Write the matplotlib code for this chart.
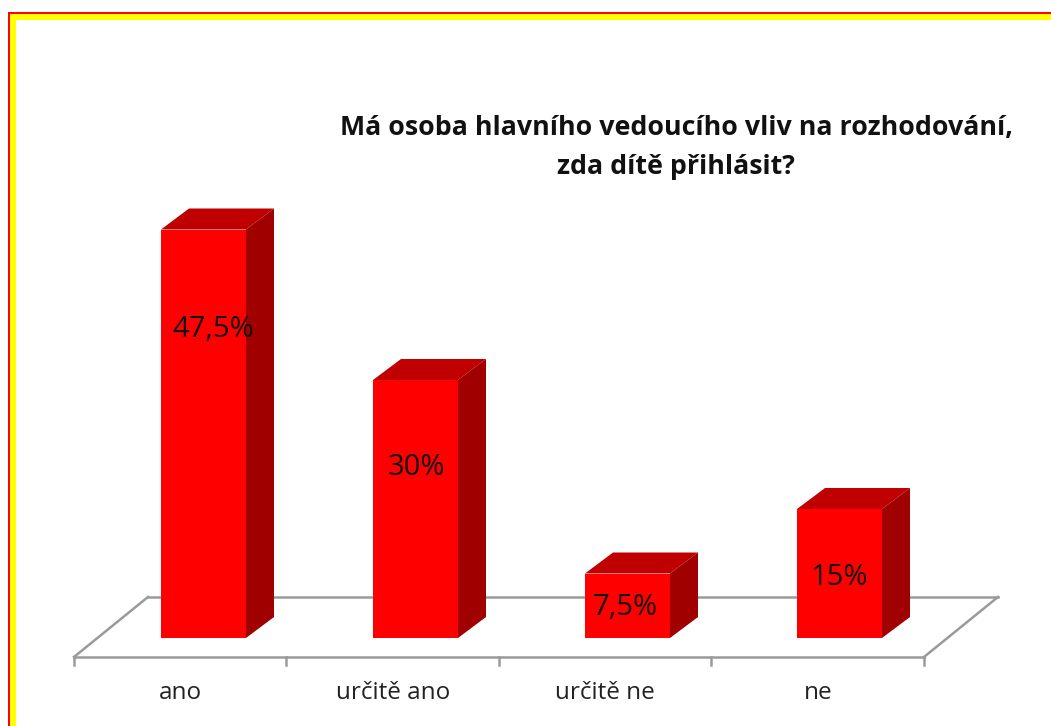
import matplotlib
matplotlib.use("Agg")
import matplotlib.pyplot as plt
from matplotlib.patches import Polygon, Rectangle

categories = ["ano", "určitě ano", "určitě ne", "ne"]
values = [47.5, 30, 7.5, 15]
value_labels = ["47,5%", "30%", "7,5%", "15%"]
title = "Má osoba hlavního vedoucího vliv na rozhodování,\nzda dítě přihlásit?"

# label placement (layout only): fraction of bar height, x shift in px
label_frac = [0.755, 0.66, 0.48, 0.47]
label_dx_px = [10, 1, -2, 0]

W, H = 1051, 726
fig = plt.figure(figsize=(W / 100, H / 100), dpi=100)
ax = fig.add_axes([0, 0, 1, 1])

px_per_cat = 212.0
px_per_pct = 8.6
x0 = 203.5
ybase = H - 638
ax.set_xlim(-x0 / px_per_cat, (W - x0) / px_per_cat)
ax.set_ylim(-ybase / px_per_pct, (H - ybase) / px_per_pct)
ax.axis("off")


def px_x(p):
    return p / px_per_cat


def px_y(p):
    return p / px_per_pct


# border (red outer thin line, yellow band inside)
def frect(x, y_top, w, h, color):
    fig.patches.append(Rectangle((x / W, (H - y_top - h) / H), w / W, h / H,
                                 transform=fig.transFigure, facecolor=color,
                                 edgecolor="none", zorder=0))

frect(8, 12, 2, H, "#FF0000")
frect(8, 12, W, 2, "#FF0000")
frect(10, 14, 6, H, "#FFFF00")
frect(10, 14, W, 6, "#FFFF00")

# floor
n = len(categories)
cw = px_x(212.5)
fl = -0.611
fr = fl + n * cw
fy = px_y(-19)
bdx, bdy = px_x(74), px_y(60)
gray = "#9A9A9A"
ax.plot([fl, fr], [fy, fy], color=gray, lw=1.8, zorder=1)
ax.plot([fl + bdx, fr + bdx], [fy + bdy, fy + bdy], color=gray, lw=1.8, zorder=1)
ax.plot([fl, fl + bdx], [fy, fy + bdy], color=gray, lw=1.8, zorder=1)
ax.plot([fr, fr + bdx], [fy, fy + bdy], color=gray, lw=1.8, zorder=1)
for k in range(n + 1):
    xt = fl + k * cw
    ax.plot([xt, xt], [fy, fy - px_y(8)], color=gray, lw=1.8, zorder=1)

# bars
hw = px_x(42.5)
dx, dy = px_x(28), px_y(21)
for i, (v, lab) in enumerate(zip(values, value_labels)):
    l, r = i - hw, i + hw
    ax.add_patch(Polygon([(l, 0), (r, 0), (r, v), (l, v)], closed=True,
                         facecolor="#FF0000", edgecolor="none", zorder=3))
    ax.add_patch(Polygon([(l, v), (r, v), (r + dx, v + dy), (l + dx, v + dy)], closed=True,
                         facecolor="#C00000", edgecolor="none", zorder=3))
    ax.add_patch(Polygon([(r, 0), (r + dx, dy), (r + dx, v + dy), (r, v)], closed=True,
                         facecolor="#A00000", edgecolor="none", zorder=3))
    ax.text(i + px_x(label_dx_px[i]), v * label_frac[i], lab,
            ha="center", va="center", fontsize=21, family=["Open Sans", "DejaVu Sans"],
            color="#111111", zorder=5)

# category labels
for i, c in enumerate(categories):
    xc = fl + (i + 0.5) * cw
    ax.text(xc, px_y(-55), c, ha="center", va="center", fontsize=17.5,
            family=["Open Sans", "DejaVu Sans"], color="#222222")

# title
ax.text(px_x(676 - x0), px_y(H - 148 - ybase), title, ha="center", va="center",
        fontsize=19.3, fontweight="bold", family=["Open Sans", "DejaVu Sans"],
        linespacing=1.65, color="#111111")

fig.savefig("out.png", dpi=100)
